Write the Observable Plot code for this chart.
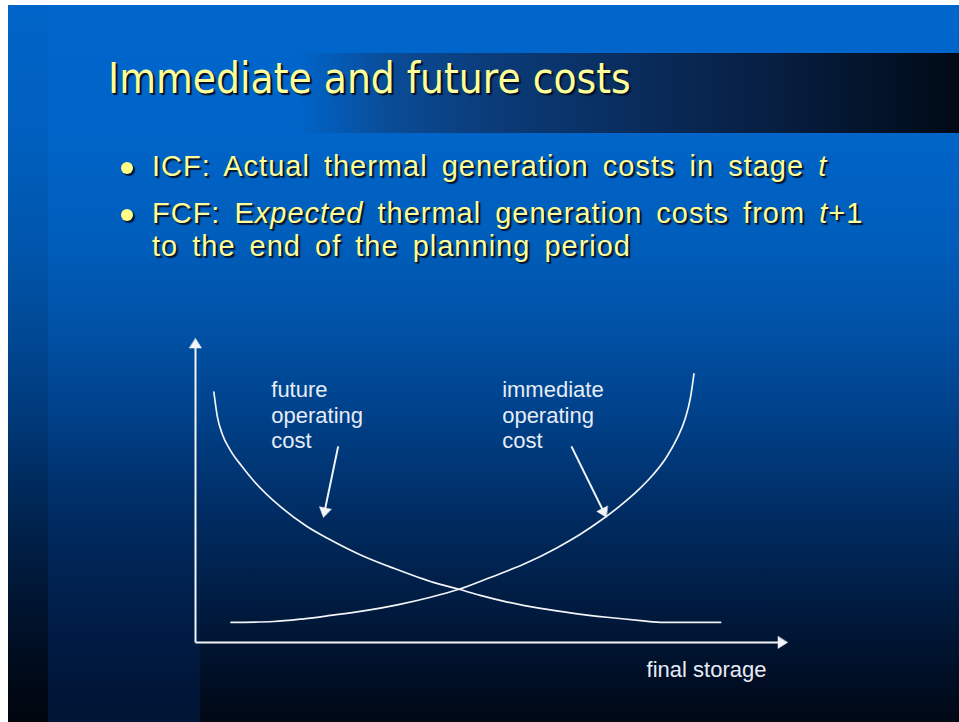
<!DOCTYPE html>
<html>
<head>
<meta charset="utf-8">
<script src="https://cdn.jsdelivr.net/npm/d3@7"></script>
<script src="https://cdn.jsdelivr.net/npm/@observablehq/plot@0.6"></script>
<style>
  html, body { margin: 0; padding: 0; width: 959px; height: 722px; overflow: hidden; background: #ffffff; }
  .abs { position: absolute; }
  #slide { left: 8px; top: 5px; width: 951px; height: 717px;
    background: linear-gradient(to bottom, #0066cc 0px, #0064c8 130px, #005dba 240px, #0050a4 330px, #003f86 420px, #002c62 510px, #001b40 600px, #000d22 680px, #000814 717px); }
  #strip { left: 8px; top: 5px; width: 40px; height: 717px;
    background: linear-gradient(to bottom, rgba(0,0,0,0.02) 0%, rgba(0,0,0,0.12) 60%, rgba(0,0,0,0.35) 100%); }
  #col { left: 48px; top: 5px; width: 152px; height: 717px;
    background: linear-gradient(to bottom, rgba(0,50,120,0) 55%, rgba(0,40,100,0.30) 85%, rgba(0,35,90,0.45) 100%); }
  #band { left: 8px; top: 53px; width: 951px; height: 80px;
    background: linear-gradient(to right, rgba(0,102,204,0) 0px, rgba(0,102,204,0) 290px, #0a4c98 380px, #0b3c7a 480px, #092d5e 620px, #061e40 770px, #010a16 951px); }
  #title { left: 108px; top: 58px; font-family: "DejaVu Sans Condensed", "DejaVu Sans", sans-serif;
    font-stretch: condensed; font-size: 42px; line-height: 42px; color: #ffff99; white-space: nowrap;
    text-shadow: 2px 2px 1px #00102c, 1px 1px 0 #1a2a10; }
  .bl { font-family: "Liberation Sans", Arial, sans-serif; font-size: 29px; line-height: 33px;
    color: #ffff9c; white-space: nowrap; letter-spacing: 1px; word-spacing: 5px;
    text-shadow: 2px 2px 1px #001636, 1px 1px 0 #2a3010; }
  .dot { width: 12px; height: 12px; border-radius: 50%; background: #ffff88;
    box-shadow: 2px 2px 1px #001636; }
  #chart { left: 0px; top: 320px; }
</style>
</head>
<body>
<div id="slide" class="abs"></div>
<div id="strip" class="abs"></div>
<div id="col" class="abs"></div>
<div id="band" class="abs"></div>
<div id="title" class="abs"></div>
<div id="b1dot" class="abs dot" style="left:121px; top:162px;"></div>
<div id="b1" class="abs bl" style="left:152px; top:150px;"></div>
<div id="b2dot" class="abs dot" style="left:121px; top:209px;"></div>
<div id="b2" class="abs bl" style="left:152px; top:197px;"></div>
<div id="b3" class="abs bl" style="left:152px; top:230px;"></div>
<div id="chart" class="abs"></div>
<script>
// ---- Slide texts ----
const titleText = "Immediate and future costs";
const bulletLines = [
  "ICF: Actual thermal generation costs in stage <i>t</i>",
  "FCF: E<i>xpected</i> thermal generation costs from <i>t</i>+1",
  "to the end of the planning period"
];

// ---- Chart data (final storage 0..100, cost 0..100) ----
const futureStorage = [3.1, 3.7, 4.5, 5.9, 7.9, 9.6, 14.4, 18.9, 22.3, 27.9, 33.5, 40.3, 44.5, 48.1, 52.7, 58.3, 63.9, 69.5, 75.2, 79.1, 88.7];
const futureCost    = [82.4, 74.2, 68.7, 63.2, 57.8, 53.7, 44.6, 38.1, 34.3, 28.8, 24.4, 19.7, 17.5, 15.5, 13.3, 11.2, 9.6, 8.3, 7.2, 6.6, 6.6];
const immediateStorage = [6.0, 13.2, 18.3, 22.8, 28.4, 34.1, 39.7, 44.5, 49.8, 55.5, 61.1, 65.0, 68.5, 71.5, 74.5, 77.2, 79.5, 81.3, 82.7, 83.6, 84.2];
const immediateCost    = [6.6, 6.9, 7.8, 8.9, 10.4, 12.4, 14.9, 17.5, 21.4, 25.8, 31.2, 35.6, 40.2, 44.6, 49.6, 55.0, 60.8, 67.0, 73.5, 80.5, 88.4];

const labelTexts = ["future\noperating\ncost", "immediate\noperating\ncost"];
const labelX = [12.8, 51.8];
const labelY = [63.9, 63.9];
const axisTitle = "final storage";
const axisTitleX = 76.2;
const axisTitleY = -11.4;

// arrows: start -> tip (data units)
const arrowFrom = [[0, 0], [0, 0], [24.1, 64.5], [63.5, 64.5]];
const arrowTo   = [[0, 100], [100, 0], [21.6, 41.2], [69.4, 41.2]];

// ---- HTML texts ----
document.getElementById("title").textContent = titleText;
document.getElementById("b1").innerHTML = bulletLines[0];
document.getElementById("b2").innerHTML = bulletLines[1];
document.getElementById("b3").innerHTML = bulletLines[2];

// ---- Plot ----
const W = 959, H = 402;
const mL = 195, mR = 172, mT = 18, mB = 80;
const xDomain = [0, 100], yDomain = [0, 100];
const sx = Plot.scale({x: {domain: xDomain, range: [mL, W - mR]}});
const sy = Plot.scale({y: {domain: yDomain, range: [H - mB, mT]}});

const future = futureStorage.map((s, i) => ({s, c: futureCost[i]}));
const immediate = immediateStorage.map((s, i) => ({s, c: immediateCost[i]}));
const labels = labelTexts.map((t, i) => ({x: labelX[i], y: labelY[i], t}));

// arrowheads computed through the scales
const headLen = 9.5, headHalf = 6;
const shafts = [], heads = [];
arrowFrom.forEach((f, i) => {
  const t = arrowTo[i];
  const x1 = sx.apply(f[0]), y1 = sy.apply(f[1]);
  const x2 = sx.apply(t[0]), y2 = sy.apply(t[1]);
  const L = Math.hypot(x2 - x1, y2 - y1);
  const ux = (x2 - x1) / L, uy = (y2 - y1) / L;
  const bx = x2 - ux * headLen, by = y2 - uy * headLen;
  shafts.push({x1: f[0], y1: f[1], x2: sx.invert(bx + ux * 2), y2: sy.invert(by + uy * 2)});
  const pts = [[x2, y2], [bx - uy * headHalf, by + ux * headHalf], [bx + uy * headHalf, by - ux * headHalf]];
  pts.forEach(p => heads.push({id: i, x: sx.invert(p[0]), y: sy.invert(p[1])}));
});

const lineColor = "#f2f4f8";
const chart = Plot.plot({
  width: W, height: H,
  marginLeft: mL, marginRight: mR, marginTop: mT, marginBottom: mB,
  x: {domain: xDomain, axis: null},
  y: {domain: yDomain, axis: null},
  style: {background: "transparent", overflow: "visible"},
  marks: [
    Plot.link(shafts, {x1: "x1", y1: "y1", x2: "x2", y2: "y2", stroke: lineColor, strokeWidth: 2}),
    Plot.line(heads, {x: "x", y: "y", z: "id", fill: lineColor, stroke: lineColor, strokeWidth: 0.5, curve: "linear-closed"}),
    Plot.line(future, {x: "s", y: "c", curve: "monotone-x", stroke: lineColor, strokeWidth: 1.7}),
    Plot.line(immediate, {x: "s", y: "c", curve: "monotone-x", stroke: lineColor, strokeWidth: 1.7}),
    Plot.text(labels, {x: "x", y: "y", text: "t", textAnchor: "start", lineAnchor: "bottom", lineHeight: 1.17,
      fontSize: 22, fontFamily: "Liberation Sans, Arial, sans-serif", fill: "#e6ecf6"}),
    Plot.text([axisTitle], {x: axisTitleX, y: axisTitleY, text: d => d, textAnchor: "start", lineAnchor: "bottom",
      fontSize: 22, fontFamily: "Liberation Sans, Arial, sans-serif", fill: "#e6ecf6"})
  ]
});
document.getElementById("chart").appendChild(chart);
</script>
</body>
</html>
